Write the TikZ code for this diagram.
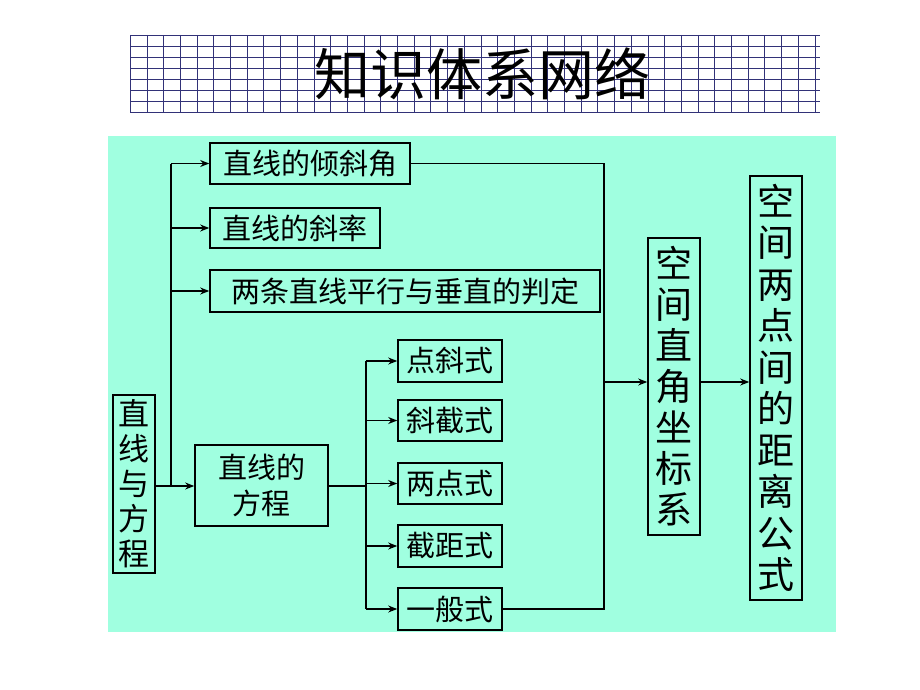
\documentclass[tikz,border=0pt]{standalone}
\usepackage{fontspec}
\newfontfamily\cjk{Noto Sans CJK SC}
\usetikzlibrary{arrows.meta}
\definecolor{panel}{RGB}{160,255,224}
\definecolor{gridblue}{RGB}{50,50,120}
\begin{document}
\begin{tikzpicture}[x=1pt,y=-1pt,
    box/.style={draw,line width=1.6pt,inner sep=0pt,font=\cjk\fontsize{29}{29}\selectfont},
    vbox/.style={draw,line width=1.6pt,inner sep=0pt,align=center},
    conn/.style={line width=1.4pt},
    arr/.style={line width=1.4pt,-{Stealth[length=9pt,width=7pt]}}]
    \useasboundingbox (0,0) rectangle (920,690);
    % title
    \fill[white] (130,35) rectangle (820,112);
    \foreach \x in {130,146.7,...,821} \draw[gridblue] (\x,35) -- (\x,112);
    \foreach \y in {35,46,...,113} \draw[gridblue] (130,\y) -- (820,\y);
    \node (title) [font=\cjk\fontsize{56}{56}\selectfont] at (482,74) {知识体系网络};
    % panel
    \fill[panel] (108,136) rectangle (836,632);
    \node (qxj) [box,minimum width=200,minimum height=41] at (310,163.5) {直线的倾斜角};
    \node (xl) [box,minimum width=170,minimum height=40] at (295,228) {直线的斜率};
    \node (px) [box,minimum width=390,minimum height=42] at (405,291) {两条直线平行与垂直的判定};
    \node (dx) [box,minimum width=104,minimum height=42] at (450,361) {点斜式};
    \node (xj) [box,minimum width=104,minimum height=41] at (450,420.5) {斜截式};
    \node (ld) [box,minimum width=104,minimum height=41] at (450,483.5) {两点式};
    \node (jj) [box,minimum width=104,minimum height=42] at (450,546) {截距式};
    \node (yb) [box,minimum width=104,minimum height=42] at (450,609) {一般式};
    \node (zxyfc) [vbox,minimum width=42,minimum height=178,
        font=\cjk\fontsize{31}{35}\selectfont] at (134,484) {直\\线\\与\\方\\程};
    \node (fc) [vbox,minimum width=133,minimum height=81,
        font=\cjk\fontsize{29}{36}\selectfont] at (261.5,485.5) {直线的\\方程};
    \node (zj) [vbox,minimum width=52,minimum height=297,
        font=\cjk\fontsize{37}{41}\selectfont] at (674,386.5) {空\\间\\直\\角\\坐\\标\\系};
    \node (jl) [vbox,minimum width=52,minimum height=424,
        font=\cjk\fontsize{37}{41.5}\selectfont] at (776,388) {空\\间\\两\\点\\间\\的\\距\\离\\公\\式};
    % left branches
    \coordinate (lb) at (171,486);
    \draw[arr] (zxyfc.east |- lb) -- (fc.west |- lb);
    \draw[conn] (lb) -- (171,163.5);
    \foreach \n in {qxj,xl,px} \draw[arr] (171,0 |- \n.west) -- (\n.west);
    % equation forms
    \coordinate (mb) at (366,486);
    \draw[conn] (fc.east |- mb) -- (mb);
    \draw[conn] (366,361) -- (366,609);
    \foreach \n in {dx,xj,ld,jj,yb} \draw[arr] (366,0 |- \n.west) -- (\n.west);
    % right collector
    \coordinate (rt) at (604,163.5);
    \coordinate (rb) at (604,609);
    \draw[conn] (qxj.east) -- (rt) -- (rb) -- (yb.east);
    \draw[arr] (604,382) -- (zj.west |- 0,382);
    \draw[arr] (zj.east |- 0,382) -- (jl.west |- 0,382);
\end{tikzpicture}
\end{document}
